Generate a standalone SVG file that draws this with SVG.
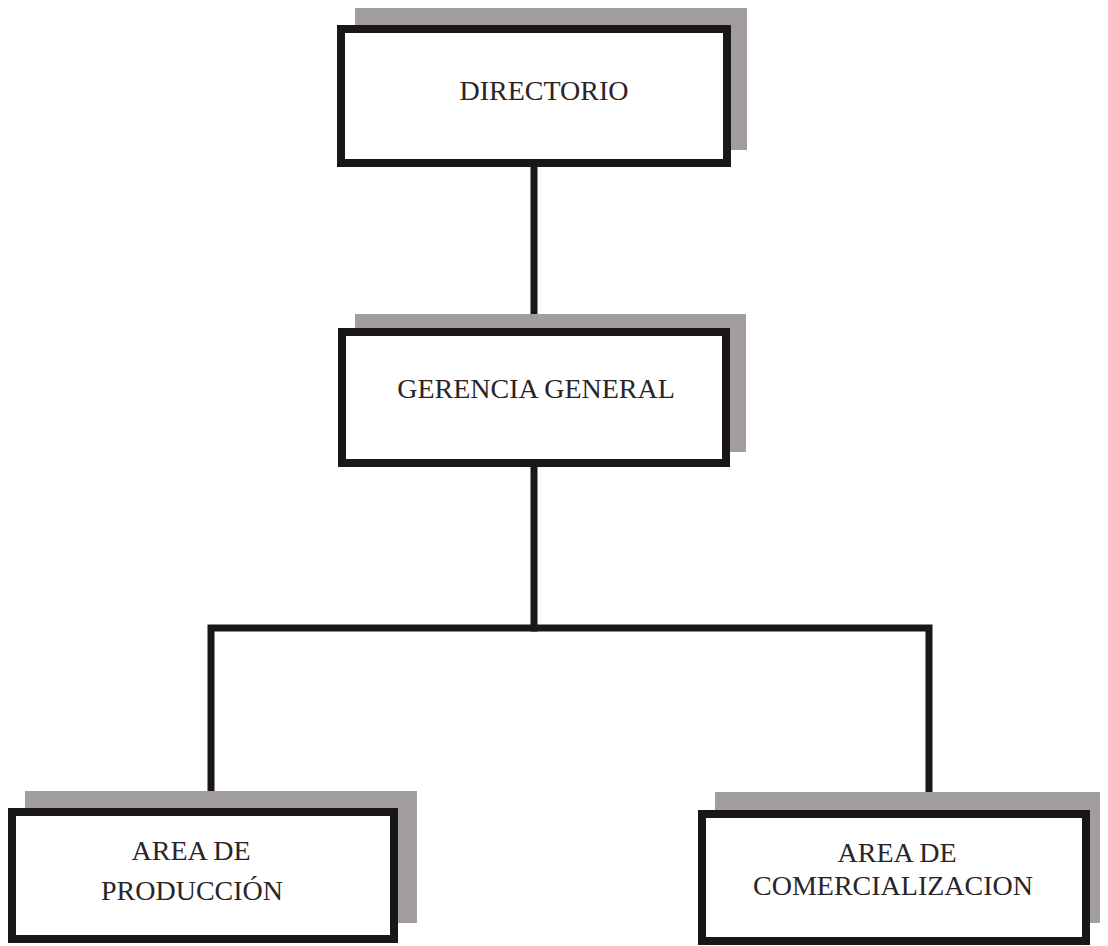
<svg xmlns="http://www.w3.org/2000/svg" width="1108" height="946" viewBox="0 0 1108 946">
<style>
.shadow{fill:#a19da1}
.box{fill:#ffffff;stroke:#1a1718;stroke-width:8}
.lbl{font-family:"Liberation Serif","Times New Roman",serif;font-size:28px;fill:#2a2427;text-anchor:middle}
.con{stroke:#1a1718;stroke-width:7;fill:none;stroke-linecap:square}
</style>
<rect width="1108" height="946" fill="#ffffff"/>
<g id="connectors">
<line class="con" x1="534" y1="167" x2="534" y2="328"/>
<line class="con" x1="534" y1="467" x2="534" y2="628"/>
<polyline class="con" points="211,808 211,628 929,628 929,810"/>
</g>
<g id="directorio">
<rect class="shadow" x="355" y="8" width="392" height="142"/>
<rect class="box" x="341" y="29" width="386" height="134"/>
<text class="lbl" x="544" y="100">DIRECTORIO</text>
</g>
<g id="gerencia">
<rect class="shadow" x="355" y="314" width="391" height="138"/>
<rect class="box" x="342" y="332" width="384" height="131"/>
<text class="lbl" x="536" y="398">GERENCIA GENERAL</text>
</g>
<g id="produccion">
<rect class="shadow" x="25" y="791" width="392" height="132"/>
<rect class="box" x="12" y="812" width="382" height="127"/>
<text class="lbl" x="191" y="860">AREA DE</text>
<text class="lbl" x="192" y="900">PRODUCCIÓN</text>
</g>
<g id="comercializacion">
<rect class="shadow" x="715" y="792" width="385" height="131"/>
<rect class="box" x="702" y="814" width="384" height="127"/>
<text class="lbl" x="897" y="862">AREA DE</text>
<text class="lbl" x="893" y="895">COMERCIALIZACION</text>
</g>
</svg>
